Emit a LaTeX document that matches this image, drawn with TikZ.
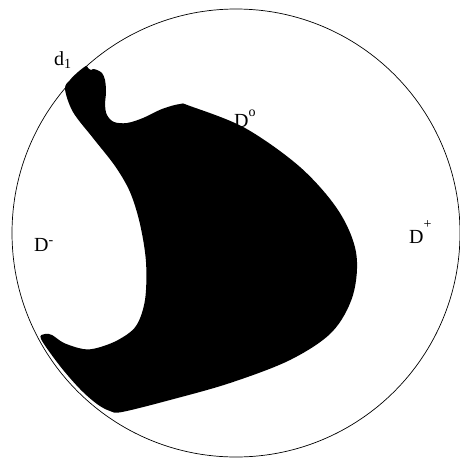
\documentclass[tikz,border=0pt]{standalone}
\usepackage{fontspec}
\setmainfont{Liberation Serif}
\tikzset{
  lbl/.style={inner sep=0pt, anchor=base west, font=\fontsize{20}{22}\selectfont}
}
\newcommand{\supr}[2]{\raisebox{#1}{\fontsize{14}{15}\selectfont #2}}
\begin{document}
\begin{tikzpicture}[x=1pt,y=-1pt]
\useasboundingbox (0,0) rectangle (460,458);
\clip (0,0) rectangle (460,458);
\fill[white] (0,0) rectangle (460,458);
\draw[line width=0.7pt] (236,233) circle[radius=224];
\fill[black] plot[smooth cycle, tension=0.55] coordinates {
 (65,89) (70,80) (78,72) (86,66) (88,68) (91,70) (93,69) (97,70)
 (102,73) (105,80) (106,92) (105,105) (107,115) (114,122) (127,123) (143,118)
 (162,109) (180,104) (190,106) (245,128) (300,167) (338,210)
 (356,252) (353,295) (332,332) (290,360) (230,383)
 (170,400) (122,412) (110,411) (97,404) (80,389) (60,366)
 (41,339) (45,334) (52,335) (64,343) (83,349) (97,348)
 (118,340) (136,326) (145,300) (146,262) (140,224) (130,192)
 (115,166) (93,138) (73,112)
};
\node[lbl] (d1) at (54,65) {d\raisebox{-3pt}{\fontsize{14}{15}\selectfont 1}};
\node[lbl] (Do) at (234,127) {D\supr{11pt}{o}};
\node[lbl] (Dm) at (34,251) {D\supr{7pt}{-}};
\node[lbl] (Dp) at (409,243) {D\supr{15pt}{+}};
\end{tikzpicture}
\end{document}
